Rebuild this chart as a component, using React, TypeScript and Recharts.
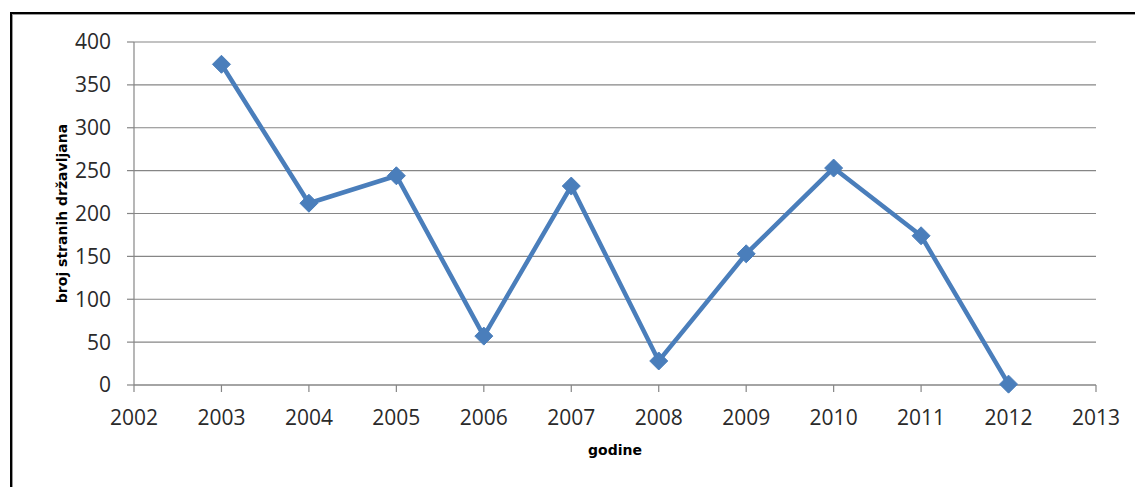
import React from "react";
import { LineChart, Line, XAxis, YAxis, CartesianGrid } from "recharts";

const years = [2003, 2004, 2005, 2006, 2007, 2008, 2009, 2010, 2011, 2012];
const values = [374, 212, 244, 57, 232, 28, 153, 253, 174, 1];
const xTicks = [2002, 2003, 2004, 2005, 2006, 2007, 2008, 2009, 2010, 2011, 2012, 2013];
const yTicks = [0, 50, 100, 150, 200, 250, 300, 350, 400];
const yLabel = "broj stranih državljana";
const xLabel = "godine";

const data = years.map((y, i) => ({ year: y, value: values[i] }));

const COLOR = "#4a7ebb";
const AXIS = "#868686";
const TICKFONT = "'Open Sans', sans-serif";
const FONT = "'DejaVu Sans', sans-serif";

const Diamond = (props: any) => {
  const { cx, cy } = props;
  if (cx == null || cy == null) return null;
  const r = 9;
  return (
    <polygon
      points={`${cx},${cy - r} ${cx + r},${cy} ${cx},${cy + r} ${cx - r},${cy}`}
      fill={COLOR}
      stroke={COLOR}
      strokeWidth={1}
    />
  );
};

export default function App() {
  return (
    <div style={{ position: "absolute", left: 0, top: 0, width: 1135, height: 487, overflow: "hidden", background: "#fff" }}>
      <div
        style={{
          position: "absolute",
          left: 10,
          top: 12,
          width: 1300,
          height: 700,
          borderTop: "2px solid #000",
          borderLeft: "2px solid #000",
          boxShadow: "inset 1px 1px 0 #999",
        }}
      />
      <div style={{ position: "absolute", left: 0, top: 0 }}>
        <LineChart width={1135} height={487} data={data} margin={{ top: 42, right: 39, left: 0, bottom: 0 }}>
          <CartesianGrid vertical={false} stroke={AXIS} strokeWidth={1.2} />
          <XAxis
            dataKey="year"
            type="number"
            domain={[2002, 2013]}
            ticks={xTicks}
            interval={0}
            height={102}
            tickSize={7}
            tickMargin={18}
            axisLine={{ stroke: AXIS, strokeWidth: 1.2 }}
            tickLine={{ stroke: AXIS, strokeWidth: 1.2 }}
            tick={{ fill: "#2a2a2a", fontSize: 21, fontFamily: TICKFONT }}
            label={{
              content: (p: any) => {
                const vb = p.viewBox;
                return (
                  <text x={vb.x + vb.width / 2} y={vb.y + 70} textAnchor="middle" fontFamily={FONT} fontWeight="bold" fontSize={14} fill="#000">
                    {xLabel}
                  </text>
                );
              },
            }}
          />
          <YAxis
            type="number"
            domain={[0, 400]}
            ticks={yTicks}
            interval={0}
            width={134}
            tickSize={7}
            tickMargin={16}
            axisLine={{ stroke: AXIS, strokeWidth: 1.2 }}
            tickLine={{ stroke: AXIS, strokeWidth: 1.2 }}
            tick={{ fill: "#2a2a2a", fontSize: 21, fontFamily: TICKFONT }}
            label={{
              content: (p: any) => {
                const vb = p.viewBox;
                const cx = vb.x + 67;
                const cy = vb.y + vb.height / 2;
                return (
                  <text x={cx} y={cy} textAnchor="middle" transform={`rotate(-90 ${cx} ${cy})`} fontFamily={FONT} fontWeight="bold" fontSize={14} fill="#000">
                    {yLabel}
                  </text>
                );
              },
            }}
          />
          <Line
            type="linear"
            dataKey="value"
            stroke={COLOR}
            strokeWidth={4.5}
            dot={<Diamond />}
            activeDot={false}
            isAnimationActive={false}
          />
        </LineChart>
      </div>
    </div>
  );
}
